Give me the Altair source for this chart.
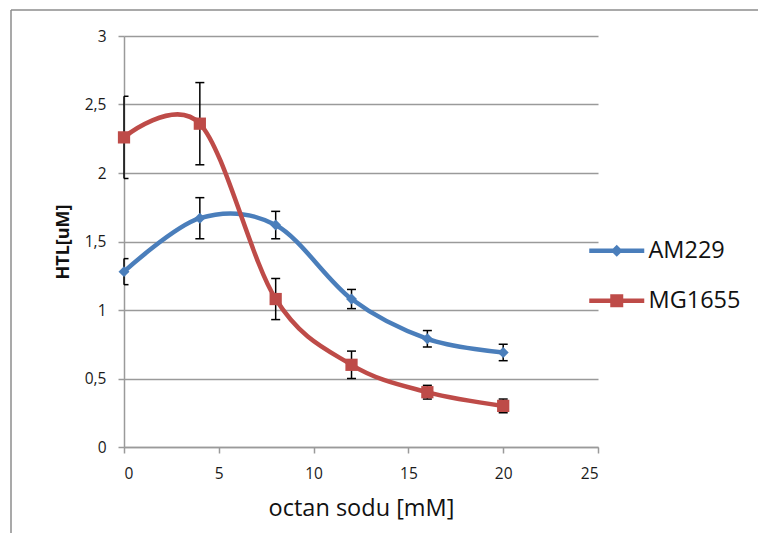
import altair as alt
import pandas as pd

# Octanoate concentration [mM]
conc = [0, 4, 8, 12, 16, 20]

# HTL concentration [uM], mean and error for each strain
am229 = [1.28, 1.67, 1.62, 1.08, 0.79, 0.69]
am229_err = [0.095, 0.15, 0.10, 0.07, 0.06, 0.06]
mg1655 = [2.26, 2.36, 1.08, 0.60, 0.40, 0.30]
mg1655_err = [0.30, 0.30, 0.15, 0.10, 0.05, 0.05]

series_names = ["AM229", "MG1655"]
series_colors = ["#4a7ebb", "#be4b48"]

x_ticks = [0, 5, 10, 15, 20, 25]
y_ticks = [0, 0.5, 1, 1.5, 2, 2.5, 3]

rows = []
for name, vals, errs in [("AM229", am229, am229_err), ("MG1655", mg1655, mg1655_err)]:
    for c, v, e in zip(conc, vals, errs):
        rows.append({"conc": c, "htl": v, "err": e, "series": name})
df = pd.DataFrame(rows)

FONT = "Open Sans"
GRID = "#9a9a9a"

# legend glyphs: a line with the series marker on it
legend_shapes = [
    "M-2.75,-0.22H2.75V0.22H-2.75Z M0,-0.6L0.6,0L0,0.6L-0.6,0Z",
    "M-2.75,-0.22H2.75V0.22H-2.75Z M-0.65,-0.65H0.65V0.65H-0.65Z",
]

x_enc = alt.X(
    "conc:Q",
    scale=alt.Scale(domain=[0, 25], nice=False),
    axis=alt.Axis(
        values=x_ticks, title="octan sodu [mM]", grid=False,
        tickSize=6, labelPadding=25, labelBaseline="alphabetic",
        titleY=68, titleBaseline="alphabetic",
    ),
)
y_enc = alt.Y(
    "htl:Q",
    scale=alt.Scale(domain=[0, 3], nice=False),
    axis=alt.Axis(
        values=y_ticks, title="HTL[uM]", grid=True,
        tickSize=6, labelPadding=12,
        labelExpr="replace(format(datum.value, '~g'), '.', ',')",
        titleX=-61, titleY=205.5, titleAlign="center", titleBaseline="middle",
        titleFontWeight="bold", titleFontSize=18,
    ),
)
color_enc = alt.Color(
    "series:N",
    scale=alt.Scale(domain=series_names, range=series_colors),
    legend=alt.Legend(title=None),
)

base = alt.Chart(df)

with_err = base.transform_calculate(
    lo="datum.htl - datum.err", hi="datum.htl + datum.err"
)

err_rule = with_err.mark_rule(color="black", strokeWidth=1.5).encode(
    x=x_enc, y="lo:Q", y2="hi:Q"
)
cap_lo = with_err.mark_tick(
    color="black", thickness=1.5, size=9, orient="horizontal", clip=True, opacity=1
).encode(x="conc:Q", y="lo:Q")
cap_hi = with_err.mark_tick(
    color="black", thickness=1.5, size=9, orient="horizontal", clip=True, opacity=1
).encode(x="conc:Q", y="hi:Q")

lines = base.mark_line(
    interpolate="cardinal", tension=0, strokeWidth=4.5
).encode(x=x_enc, y=y_enc, color=color_enc, detail="series:N")

pts_am = base.transform_filter(alt.datum.series == "AM229").mark_point(
    shape="diamond", filled=True, size=120, opacity=1
).encode(x="conc:Q", y="htl:Q", color=color_enc)

pts_mg = base.transform_filter(alt.datum.series == "MG1655").mark_point(
    shape="square", filled=True, size=150, opacity=1
).encode(x="conc:Q", y="htl:Q", color=color_enc)

legend_layer = base.transform_filter("false").mark_point(
    filled=True, opacity=1
).encode(
    x="conc:Q",
    y="htl:Q",
    color=color_enc,
    shape=alt.Shape(
        "series:N",
        scale=alt.Scale(domain=series_names, range=legend_shapes),
        legend=alt.Legend(title=None),
    ),
)

# outer chart border
one = alt.Data(values=[{"k": 1}])
frame_top = alt.Chart(one).mark_rule(color="#8c8c8c", strokeWidth=1.5).encode(
    x=alt.value(-113), x2=alt.value(640), y=alt.value(-26)
)
frame_left = alt.Chart(one).mark_rule(color="#8c8c8c", strokeWidth=1.5).encode(
    x=alt.value(-113), y=alt.value(-26), y2=alt.value(500)
)

chart = alt.layer(
    frame_top, frame_left, err_rule, cap_lo, cap_hi, lines, pts_am, pts_mg, legend_layer
).properties(
    width=474,
    height=411,
    autosize=alt.AutoSizeParams(type="none"),
    padding={"left": 124, "top": 36, "right": 160, "bottom": 86},
    background="white",
).configure(
    font=FONT,
).configure_view(
    stroke=None,
).configure_axis(
    labelFont=FONT,
    labelFontSize=15.5,
    labelColor="#1a1a1a",
    titleFont=FONT,
    titleColor="#111111",
    titleFontWeight="normal",
    titleFontSize=23.5,
    domainColor=GRID,
    domainWidth=1.5,
    tickColor=GRID,
    tickWidth=1.5,
    gridColor=GRID,
    gridWidth=1.5,
).configure_legend(
    orient="none",
    legendX=481,
    legendY=203,
    padding=0,
    symbolSize=400,
    symbolStrokeWidth=0,
    labelFont=FONT,
    labelFontSize=23.5,
    labelColor="#111111",
    labelOffset=20,
    rowPadding=25,
)

chart.save("out.html", embed_options={"renderer": "svg", "actions": False})
